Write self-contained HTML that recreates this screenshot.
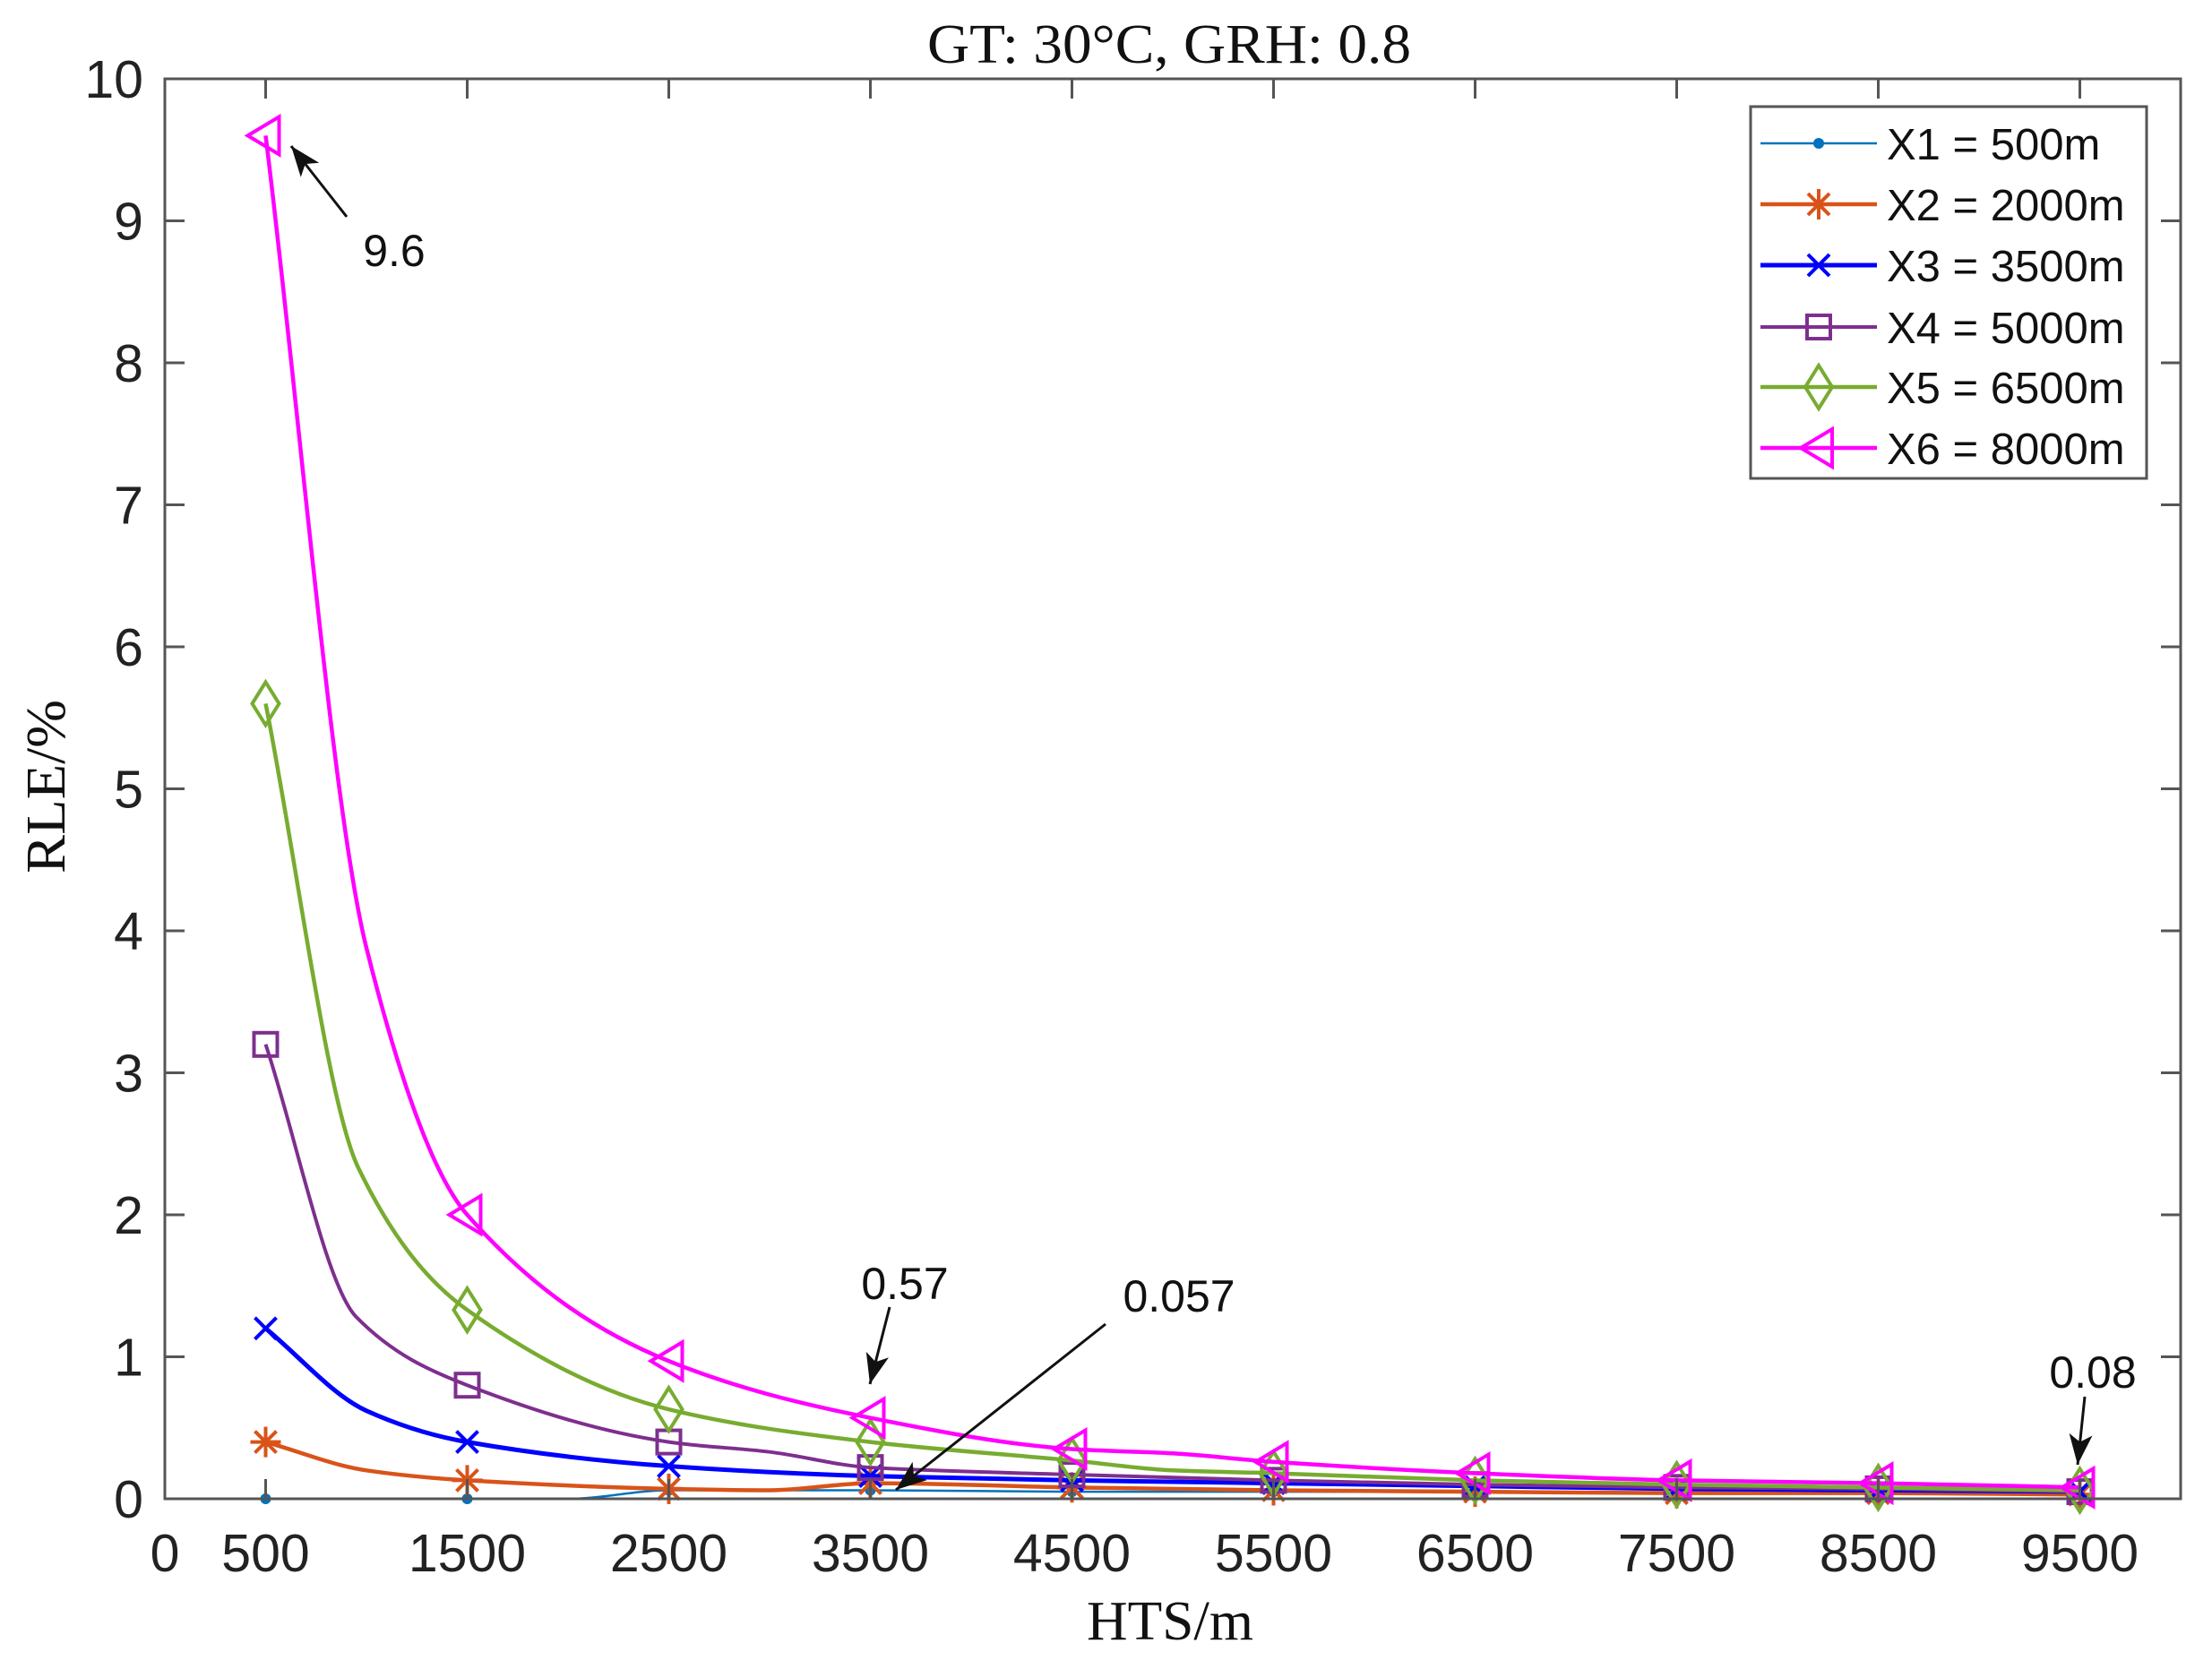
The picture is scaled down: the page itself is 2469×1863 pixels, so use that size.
<!DOCTYPE html>
<html><head><meta charset="utf-8"><style>
html,body{margin:0;padding:0;background:#fff}
svg{display:block}
</style></head><body>
<svg id="s" width="2469" height="1863" viewBox="0 0 2469 1863" xmlns="http://www.w3.org/2000/svg">
<rect width="2469" height="1863" fill="#fff"/>
<g id="plot"></g>
<rect x="184" y="88" width="2250" height="1585" fill="none" stroke="#555" stroke-width="3"/>
<g id="ticks" stroke="#555" stroke-width="3"></g>
<g id="labels" font-family="Liberation Sans, sans-serif" font-size="59" fill="#222"></g>
<text x="1305" y="70" text-anchor="middle" font-family="Liberation Serif, serif" font-size="62" textLength="540" lengthAdjust="spacingAndGlyphs" fill="#111">GT: 30°C, GRH: 0.8</text>
<text x="1306" y="1830" text-anchor="middle" font-family="Liberation Serif, serif" font-size="62" textLength="186" lengthAdjust="spacingAndGlyphs" fill="#111">HTS/m</text>
<text transform="translate(72,878) rotate(-90)" text-anchor="middle" font-family="Liberation Serif, serif" font-size="62" textLength="194" lengthAdjust="spacingAndGlyphs" fill="#111">RLE/%</text>
<g id="ann" font-family="Liberation Sans, sans-serif" font-size="50" fill="#111"></g>
<rect x="1954" y="119" width="442" height="415" fill="#fff" stroke="#555" stroke-width="3"/>
<g id="leg" font-family="Liberation Sans, sans-serif" font-size="49" fill="#111"></g>
</svg>
<script>
const NS="http://www.w3.org/2000/svg";
function el(p,t,a,txt){const e=document.createElementNS(NS,t);for(const k in a)e.setAttribute(k,a[k]);if(txt!==undefined)e.textContent=txt;p.appendChild(e);return e;}
const X=v=>184+v*0.225, Y=v=>1673-v*158.5;
const ticks=document.getElementById('ticks'),labels=document.getElementById('labels');
for(let i=0;i<=10;i++){const y=Y(i);
 if(i>0&&i<10){el(ticks,'line',{x1:184,y1:y,x2:206,y2:y});el(ticks,'line',{x1:2434,y1:y,x2:2412,y2:y});}
 el(labels,'text',{x:160,y:y+21,'text-anchor':'end'},String(i));}
el(labels,'text',{x:184,y:1754,'text-anchor':'middle'},'0');
for(let v=500;v<=9500;v+=1000){const x=X(v);
 el(ticks,'line',{x1:x,y1:1673,x2:x,y2:1651});el(ticks,'line',{x1:x,y1:88,x2:x,y2:110});
 el(labels,'text',{x:x,y:1754,'text-anchor':'middle'},String(v));}
const xs=[500,1500,2500,3500,4500,5500,6500,7500,8500,9500];
const S=[
 {c:'#0072BD',w:2.5,m:'dot',pts:[[500,0],[1500,0],[2000,0],[2500,0.06],[3500,0.06],[4500,0.05],[5500,0.05],[6500,0.05],[7500,0.04],[8500,0.04],[9500,0.04]]},
 {c:'#D95319',w:4.5,m:'star',pts:[[500,0.4],[1000,0.2],[1500,0.13],[2500,0.07],[3000,0.06],[3500,0.11],[4500,0.08],[5500,0.06],[6500,0.05],[7500,0.04],[8500,0.04],[9500,0.03]]},
 {c:'#0000FF',w:5,m:'x',pts:[[500,1.2],[1000,0.62],[1500,0.4],[2500,0.23],[3500,0.16],[4500,0.13],[5500,0.11],[6500,0.09],[7500,0.07],[8500,0.06],[9500,0.05]]},
 {c:'#7E2F8E',w:4,m:'sq',pts:[[500,3.2],[950,1.28],[1500,0.8],[2500,0.4],[3000,0.33],[3500,0.22],[4500,0.17],[5500,0.13],[6500,0.1],[7500,0.08],[8500,0.07],[9500,0.05]]},
 {c:'#77AC30',w:4.5,m:'dia',pts:[[500,5.6],[960,2.33],[1500,1.33],[2500,0.63],[3500,0.4],[4500,0.27],[5000,0.2],[5500,0.18],[6500,0.13],[7500,0.1],[8500,0.08],[9500,0.06]]},
 {c:'#FF00FF',w:4.5,m:'tri',pts:[[500,9.6],[1000,3.88],[1500,2.0],[2500,0.97],[3500,0.57],[4500,0.35],[5000,0.32],[5500,0.26],[6500,0.18],[7500,0.13],[8500,0.11],[9500,0.08]]}
];
function mono(pts){const n=pts.length,x=pts.map(p=>p[0]),y=pts.map(p=>p[1]);const d=[],m=[];
 for(let i=0;i<n-1;i++)d.push((y[i+1]-y[i])/(x[i+1]-x[i]));
 m[0]=d[0];m[n-1]=d[n-2];for(let i=1;i<n-1;i++)m[i]=(d[i-1]*d[i]<=0)?0:(2/(1/d[i-1]+1/d[i]));
 let s='M'+X(x[0])+' '+Y(y[0]);
 for(let i=0;i<n-1;i++){const h=x[i+1]-x[i];
  s+=' C'+X(x[i]+h/3)+' '+Y(y[i]+m[i]*h/3)+' '+X(x[i+1]-h/3)+' '+Y(y[i+1]-m[i+1]*h/3)+' '+X(x[i+1])+' '+Y(y[i+1]);}
 return s;}
function marker(g,t,x,y,c){const a={fill:'none',stroke:c,'stroke-width':4};
 if(t==='dot')el(g,'circle',{cx:x,cy:y,r:6,fill:c});
 else if(t==='star'){for(let i=0;i<4;i++){const an=i*Math.PI/4;el(g,'line',Object.assign({x1:x-17*Math.cos(an),y1:y-17*Math.sin(an),x2:x+17*Math.cos(an),y2:y+17*Math.sin(an)},a));}}
 else if(t==='x'){el(g,'path',Object.assign({d:`M${x-12} ${y-12}L${x+12} ${y+12}M${x-12} ${y+12}L${x+12} ${y-12}`},a));}
 else if(t==='sq')el(g,'rect',Object.assign({x:x-13,y:y-13,width:26,height:26},a));
 else if(t==='dia')el(g,'path',Object.assign({d:`M${x} ${y-24}L${x+15} ${y}L${x} ${y+24}L${x-15} ${y}Z`},a));
 else if(t==='tri')el(g,'path',Object.assign({d:`M${x-20} ${y}L${x+15} ${y-21}L${x+15} ${y+21}Z`},a));}
const plot=document.getElementById('plot');
S.forEach(s=>{el(plot,'path',{d:mono(s.pts),fill:'none',stroke:s.c,'stroke-width':s.w});
 s.pts.forEach(p=>{if(xs.includes(p[0]))marker(plot,s.m,X(p[0]),Y(p[1]),s.c);});});
const leg=document.getElementById('leg');
const names=['X1 = 500m','X2 = 2000m','X3 = 3500m','X4 = 5000m','X5 = 6500m','X6 = 8000m'];
const ry=[160,228,296,365,432,500];
S.forEach((s,i)=>{el(leg,'line',{x1:1965,y1:ry[i],x2:2095,y2:ry[i],stroke:s.c,'stroke-width':s.w});
 marker(leg,s.m,2030,ry[i],s.c);el(leg,'text',{x:2106,y:ry[i]+18},names[i]);});
const ann=document.getElementById('ann');
function arrow(x1,y1,x2,y2){el(ann,'line',{x1:x1,y1:y1,x2:x2,y2:y2,stroke:'#111','stroke-width':3});
 const a=Math.atan2(y2-y1,x2-x1),L=34,W=13;const bx=x2-L*Math.cos(a),by=y2-L*Math.sin(a);
 el(ann,'path',{d:`M${x2} ${y2}L${bx+W*Math.sin(a)} ${by-W*Math.cos(a)}L${bx+L*0.25*Math.cos(a)} ${by+L*0.25*Math.sin(a)}L${bx-W*Math.sin(a)} ${by+W*Math.cos(a)}Z`,fill:'#111'});}
arrow(387,242,325,163);el(ann,'text',{x:440,y:297,'text-anchor':'middle'},'9.6');
arrow(993,1459,971,1545);el(ann,'text',{x:1010,y:1450,'text-anchor':'middle'},'0.57');
arrow(1234,1478,1000,1663);el(ann,'text',{x:1316,y:1464,'text-anchor':'middle'},'0.057');
arrow(2327,1559,2319,1635);el(ann,'text',{x:2336,y:1549,'text-anchor':'middle'},'0.08');
</script>
</body></html>
